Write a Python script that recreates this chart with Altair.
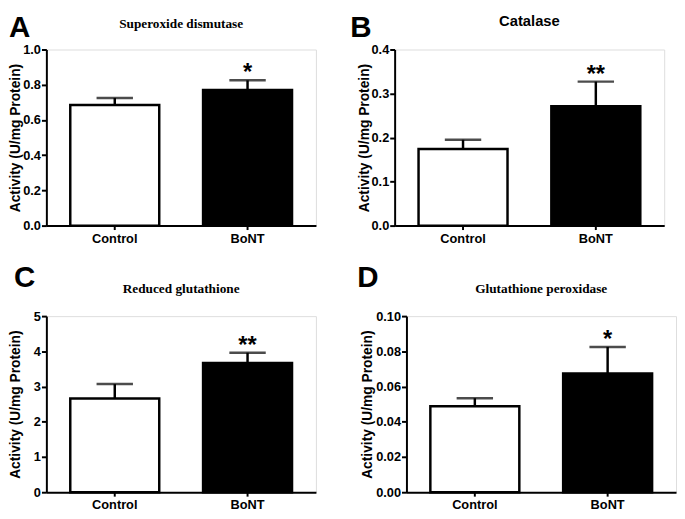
import altair as alt
import pandas as pd

# ---- data ----
categories = ["Control", "BoNT"]

sod_mean = [0.685, 0.770]
sod_err = [0.040, 0.055]
sod_stars = ["", "*"]

cat_mean = [0.174, 0.271]
cat_err = [0.021, 0.056]
cat_stars = ["", "**"]

gsh_mean = [2.66, 3.67]
gsh_err = [0.41, 0.29]
gsh_stars = ["", "**"]

gpx_mean = [0.0488, 0.0674]
gpx_err = [0.0046, 0.0151]
gpx_stars = ["", "*"]

sod_ticks = [0.0, 0.2, 0.4, 0.6, 0.8, 1.0]
cat_ticks = [0.0, 0.1, 0.2, 0.3, 0.4]
gsh_ticks = [0, 1, 2, 3, 4, 5]
gpx_ticks = [0.0, 0.02, 0.04, 0.06, 0.08, 0.10]

SANS = "Liberation Sans"
SERIF = "Liberation Serif"
W = 274
H = 179


def panel(title, title_font, title_size, letter, letter_x, letter_y, title_y,
          means, errs, stars, ymax, yticks, yfmt, yext):
    df = pd.DataFrame({
        "group": categories,
        "mean": means,
        "cap": [m + e for m, e in zip(means, errs)],
        "star": stars,
    })
    xenc = alt.X(
        "group:N", sort=categories,
        scale=alt.Scale(paddingInner=0.33, paddingOuter=0.18),
        axis=alt.Axis(title=None, labelAngle=0, labelFont=SANS, labelFontSize=13,
                      labelFontWeight="bold", labelColor="black", domainColor="black",
                      domainWidth=2, tickColor="black", tickWidth=2, tickSize=4,
                      labelPadding=3),
    )
    yscale = alt.Scale(domain=[0, ymax], nice=False, zero=True)
    yaxis = alt.Axis(
        title="Activity (U/mg Protein)", values=yticks, tickCount=len(yticks),
        format=yfmt, grid=False,
        labelOverlap=False, labelBound=False, labelFlush=False,
        labelFont=SANS, labelFontSize=13, labelFontWeight="bold", labelColor="black",
        labelPadding=1, tickSize=5, tickWidth=2, tickColor="black",
        domainColor="black", domainWidth=2,
        titleFont=SANS, titleFontSize=14, titleFontWeight="bold", titleColor="black",
        titlePadding=1, minExtent=yext, maxExtent=yext,
    )
    base = alt.Chart(df).encode(x=xenc)
    bars = base.mark_bar(stroke="black", strokeWidth=2.5).encode(
        y=alt.Y("mean:Q", scale=yscale, axis=yaxis),
        fill=alt.Fill("group:N", scale=alt.Scale(domain=categories, range=["white", "black"]),
                      legend=None),
    )
    err = base.mark_rule(color="black", strokeWidth=2.5).encode(
        y=alt.Y("mean:Q"), y2="cap:Q")
    caps = base.mark_tick(color="black", thickness=2.5, size=37).encode(y=alt.Y("cap:Q"))
    sig = base.mark_text(font=SANS, fontSize=24, fontWeight="bold", baseline="alphabetic",
                         dy=0, color="black").encode(y=alt.Y("cap:Q"), text="star:N")
    ttl = alt.Chart(pd.DataFrame({"t": [title]})).mark_text(
        font=title_font, fontSize=title_size, fontWeight="bold", align="center",
        baseline="alphabetic", color="black").encode(
        x=alt.value(W / 2), y=alt.value(title_y), text="t:N")
    let = alt.Chart(pd.DataFrame({"t": [letter]})).mark_text(
        font=SANS, fontSize=30, fontWeight="bold", align="left",
        baseline="alphabetic", color="black").encode(
        x=alt.value(letter_x), y=alt.value(letter_y), text="t:N")
    return alt.layer(bars, err, caps, sig, ttl, let).properties(width=W, height=H)


pA = panel("Superoxide dismutase", SERIF, 13.5, "A", -38, -13, -22,
           sod_mean, sod_err, sod_stars, 1.0, sod_ticks, ".1f", 23)
pB = panel("Catalase", SANS, 15, "B", -45, -13, -24,
           cat_mean, cat_err, cat_stars, 0.4, cat_ticks, ".1f", 23)
pC = panel("Reduced glutathione", SERIF, 13.5, "C", -33, -30, -24,
           gsh_mean, gsh_err, gsh_stars, 5, gsh_ticks, "d", 23)
pD = panel("Glutathione peroxidase", SERIF, 13.5, "D", -50, -30, -24,
           gpx_mean, gpx_err, gpx_stars, 0.10, gpx_ticks, ".2f", 32)

chart = alt.vconcat(
    alt.hconcat(pA, pB, spacing=33),
    alt.hconcat(pC, pD, spacing=40),
    spacing=16,
).properties(padding=0).configure_view(stroke=None).configure(background="white")

chart.save("out.html", embed_options={"renderer": "svg", "actions": False})
